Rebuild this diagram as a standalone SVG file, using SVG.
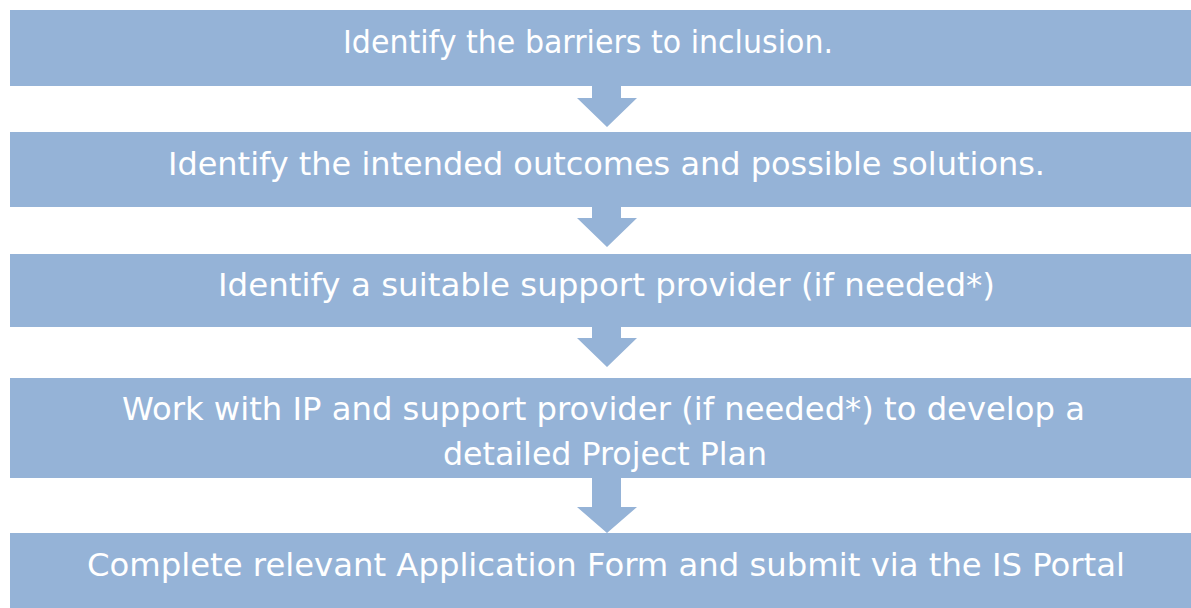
<svg xmlns="http://www.w3.org/2000/svg" width="1191" height="608" viewBox="0 0 1191 608">
<style>
.box{fill:#95B3D7}
.arrow{fill:#95B3D7}
.t{font-family:"DejaVu Sans","Liberation Sans",sans-serif;font-size:32px;fill:#FFFFFF}
</style>
<rect width="1191" height="608" fill="#FFFFFF"/>
<g id="connectors">
<polygon class="arrow" points="592,86 621,86 621,98 637,98 607,127 577,98 592,98"/>
<polygon class="arrow" points="592,207 621,207 621,218 637,218 607,247 577,218 592,218"/>
<polygon class="arrow" points="592,327 621,327 621,338 637,338 607,367 577,338 592,338"/>
<polygon class="arrow" points="592,478 621,478 621,507 637,507 607,533 577,507 592,507"/>
</g>
<g id="node1">
<rect class="box" x="10" y="10" width="1181" height="76"/>
<text class="t" x="343" y="53" textLength="490" lengthAdjust="spacingAndGlyphs">Identify the barriers to inclusion.</text>
</g>
<g id="node2">
<rect class="box" x="10" y="132" width="1181" height="75"/>
<text class="t" x="168" y="175" textLength="877" lengthAdjust="spacingAndGlyphs">Identify the intended outcomes and possible solutions.</text>
</g>
<g id="node3">
<rect class="box" x="10" y="254" width="1181" height="73"/>
<text class="t" x="218" y="296" textLength="777" lengthAdjust="spacingAndGlyphs">Identify a suitable support provider (if needed*)</text>
</g>
<g id="node4">
<rect class="box" x="10" y="378" width="1181" height="100"/>
<text class="t" x="122" y="420" textLength="963" lengthAdjust="spacingAndGlyphs">Work with IP and support provider (if needed*) to develop a</text>
<text class="t" x="443" y="465" textLength="324" lengthAdjust="spacingAndGlyphs">detailed Project Plan</text>
</g>
<g id="node5">
<rect class="box" x="10" y="533" width="1181" height="75"/>
<text class="t" x="87" y="576" textLength="1038" lengthAdjust="spacingAndGlyphs">Complete relevant Application Form and submit via the IS Portal</text>
</g>
</svg>
